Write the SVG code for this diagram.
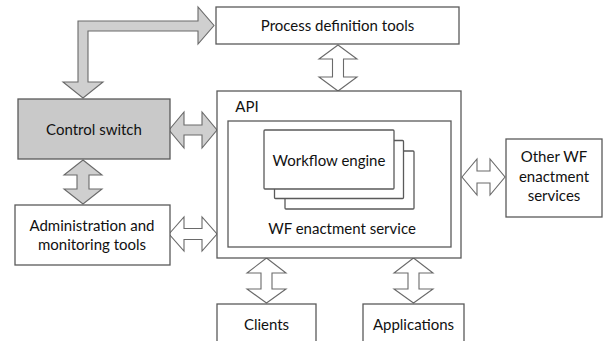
<svg xmlns="http://www.w3.org/2000/svg" width="604" height="341" viewBox="0 0 604 341">
<style>
.box{fill:#fff;stroke:#5a5a5a;stroke-width:1.3}
.gbox{fill:#c9c9c9;stroke:#5a5a5a;stroke-width:1.3}
.ga{fill:#cfcfcf;stroke:#6a6a6a;stroke-width:1.1;stroke-linejoin:miter}
.wa{fill:#fff;stroke:#6a6a6a;stroke-width:1.1;stroke-linejoin:miter}
text{font-family:Lato,"Open Sans","DejaVu Sans",sans-serif;font-size:15px;fill:#111;text-anchor:middle}
</style>
<rect width="604" height="341" fill="#fff"/>
<g id="connectors">
<path class="ga" d="M78,82 L63,82 L83,98 L103,82 L88,82 L88,31 L198,31 L198,44 L214,25.5 L198,7 L198,21 L78,21 Z"/>
<path class="ga" d="M169,130 L184,112 L184,125 L202,125 L202,112 L217,130 L202,148 L202,135 L184,135 L184,148 Z"/>
<path class="ga" d="M83,160 L102,175 L89,175 L89,189 L102,189 L83,204 L64,189 L77,189 L77,175 L64,175 Z"/>
<path class="wa" d="M169,234 L184,217 L184,228.5 L202,228.5 L202,217 L217,234 L202,251 L202,239.5 L184,239.5 L184,251 Z"/>
<path class="wa" d="M338,45 L357,59 L343.5,59 L343.5,77 L357,77 L338,91 L319,77 L332.5,77 L332.5,59 L319,59 Z"/>
<path class="wa" d="M462,177 L477,159 L477,171 L490,171 L490,159 L505,177 L490,195 L490,183 L477,183 L477,195 Z"/>
<path class="wa" d="M266.5,258 L286,273 L272,273 L272,289 L286,289 L266.5,303 L247,289 L261,289 L261,273 L247,273 Z"/>
<path class="wa" d="M413.5,258 L433,273 L419,273 L419,289 L433,289 L413.5,303 L394,289 L408,289 L408,273 L394,273 Z"/>
</g>
<g id="process-definition-tools">
<rect class="box" x="216" y="7" width="243" height="37"/>
<text x="337.5" y="31">Process definition tools</text>
</g>
<g id="control-switch">
<rect class="gbox" x="18" y="99" width="152" height="60"/>
<text x="94" y="135">Control switch</text>
</g>
<g id="admin-tools">
<rect class="box" x="15" y="205" width="155" height="60"/>
<text x="92" y="231">Administration and</text>
<text x="92" y="250">monitoring tools</text>
</g>
<g id="api">
<rect class="box" x="217" y="91" width="244" height="167"/>
<text x="247" y="112">API</text>
</g>
<g id="wf-enactment-service">
<rect class="box" x="228" y="121" width="223" height="126"/>
<text x="342" y="234">WF enactment service</text>
</g>
<g id="workflow-engine">
<rect class="box" x="285" y="151" width="129" height="58" rx="1"/>
<rect class="box" x="274.5" y="140.5" width="129" height="58" rx="1"/>
<rect class="box" x="264" y="130" width="130" height="59" rx="1"/>
<text x="329" y="166">Workflow engine</text>
</g>
<g id="other-wf">
<rect class="box" x="506" y="139" width="96" height="78"/>
<text x="554" y="162">Other WF</text>
<text x="554" y="182">enactment</text>
<text x="554" y="201">services</text>
</g>
<g id="clients">
<rect class="box" x="217" y="304" width="99" height="45"/>
<text x="266.5" y="330">Clients</text>
</g>
<g id="applications">
<rect class="box" x="363" y="304" width="101" height="45"/>
<text x="413.5" y="330">Applications</text>
</g>
</svg>
